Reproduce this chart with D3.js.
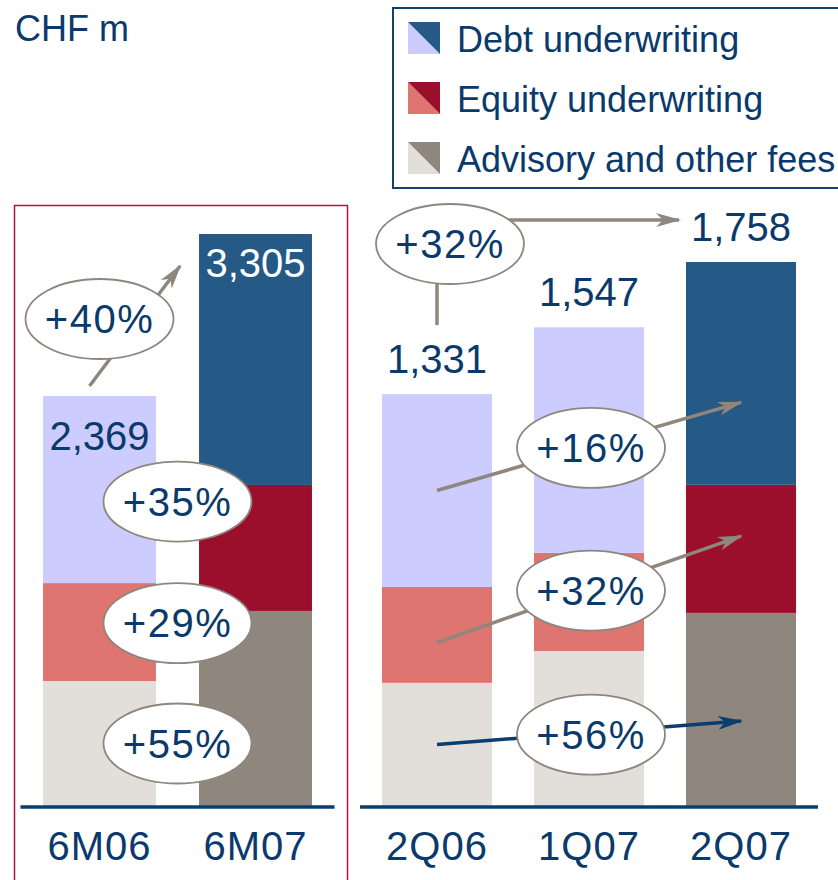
<!DOCTYPE html>
<html>
<head>
<meta charset="utf-8">
<script src="https://cdn.jsdelivr.net/npm/d3@7"></script>
<style>
  body { margin: 0; background: #fff; }
  svg { display: block; font-family: "Liberation Sans", Arial, sans-serif; }
</style>
</head>
<body>
<div class="container"></div>
<script>
// data (CHF m)
var halfCats = ["6M06", "6M07"];
var halfDebt = [1081, 1450];
var halfEquity = [566, 728];
var halfAdvisory = [722, 1127];
var halfTotals = [2369, 3305];
var halfGrowth = ["+35%", "+29%", "+55%"];   // debt, equity, advisory
var halfTotalGrowth = "+40%";

var qCats = ["2Q06", "1Q07", "2Q07"];
var qDebt = [623, 729, 720];
var qEquity = [310, 317, 414];
var qAdvisory = [398, 501, 624];
var qTotals = [1331, 1547, 1758];
var qGrowth = ["+16%", "+32%", "+56%"];
var qTotalGrowth = "+32%";

var seriesNames = ["Debt underwriting", "Equity underwriting", "Advisory and other fees"];
var lightColors = ["#ccccff", "#df7570", "#e2dfdb"];
var darkColors = ["#255a87", "#9b0e2c", "#8f867d"];

var textBlue = "#0a3a6b";
var arrowGrey = "#8f867d";

var svgWidth = 838, svgHeight = 880;
var baseY = 806;

var svg = d3.select(".container").append("svg")
    .attr("width", svgWidth)
    .attr("height", svgHeight);

var defs = svg.append("defs");
[["head-grey", arrowGrey], ["head-blue", "#0b3d6e"]].forEach(function (m) {
    defs.append("marker")
        .attr("id", m[0])
        .attr("markerUnits", "userSpaceOnUse")
        .attr("markerWidth", 26).attr("markerHeight", 14)
        .attr("refX", 23).attr("refY", 7)
        .attr("orient", "auto")
        .append("path")
        .attr("d", "M0,0 L25,7 L0,14 L7,7 Z")
        .attr("fill", m[1]);
});

// stacked rows, bottom-up: advisory, equity, debt
function stackRows(cats, debt, equity, advisory) {
    return cats.map(function (c, i) {
        return { cat: c, advisory: advisory[i], equity: equity[i], debt: debt[i] };
    });
}
var keys = ["debt", "equity", "advisory"];
var stack = d3.stack().keys(["advisory", "equity", "debt"]);

function drawPanel(cats, debt, equity, advisory, totals, x0, x1, topPx, darkIndex) {
    var rows = stackRows(cats, debt, equity, advisory);
    var xScale = d3.scaleBand().domain(cats).range([x0, x1])
        .paddingInner(0.276).paddingOuter(0.138);
    var yScale = d3.scaleLinear().domain([0, d3.max(totals)]).range([baseY, topPx]);
    var layers = stack(rows);
    var g = svg.append("g");
    layers.forEach(function (layer) {
        var si = keys.indexOf(layer.key);
        g.selectAll(null).data(layer).enter().append("rect")
            .attr("x", function (d) { return xScale(d.data.cat); })
            .attr("width", xScale.bandwidth())
            .attr("y", function (d) { return yScale(d[1]); })
            .attr("height", function (d) { return yScale(d[0]) - yScale(d[1]); })
            .attr("fill", function (d) { return d.data.cat === cats[darkIndex] ? darkColors[si] : lightColors[si]; });
    });
    // baseline
    g.append("line")
        .attr("x1", x0 - 1).attr("x2", x1 + 1)
        .attr("y1", baseY + 1).attr("y2", baseY + 1)
        .attr("stroke", "#0b3d6e").attr("stroke-width", 3.5);
    // category labels
    g.selectAll(null).data(cats).enter().append("text")
        .attr("x", function (d) { return xScale(d) + xScale.bandwidth() / 2; })
        .attr("y", 860)
        .attr("text-anchor", "middle")
        .attr("font-size", 40)
        .attr("letter-spacing", 1)
        .attr("fill", textBlue)
        .text(function (d) { return d; });
    return { x: xScale, y: yScale, layers: layers };
}

// y at a fraction of a segment's height (0 = bottom, 1 = top)
function segAt(p, key, i, f) {
    var layer = p.layers.filter(function (l) { return l.key === key; })[0];
    return p.y(layer[i][0] + (layer[i][1] - layer[i][0]) * f);
}
function bubble(cx, cy, label) {
    svg.append("ellipse")
        .attr("cx", cx).attr("cy", cy).attr("rx", 74).attr("ry", 40)
        .attr("fill", "#fff").attr("stroke", arrowGrey).attr("stroke-width", 1.8);
    svg.append("text")
        .attr("x", cx).attr("y", cy + 14)
        .attr("text-anchor", "middle")
        .attr("font-size", 40)
        .attr("letter-spacing", 1.5)
        .attr("fill", textBlue)
        .text(label);
}
function arrow(xa, ya, xb, yb, head, color) {
    svg.append("line")
        .attr("x1", xa).attr("y1", ya).attr("x2", xb).attr("y2", yb)
        .attr("stroke", color).attr("stroke-width", 3.5)
        .attr("marker-end", head ? "url(#" + head + ")" : null);
}

// left panel frame
svg.append("rect")
    .attr("x", 14.5).attr("y", 205.5).attr("width", 333).attr("height", 700)
    .attr("fill", "none").attr("stroke", "#b0173c").attr("stroke-width", 1.5);

var left = drawPanel(halfCats, halfDebt, halfEquity, halfAdvisory, halfTotals, 21.5, 333.5, 234, 1);
var right = drawPanel(qCats, qDebt, qEquity, qAdvisory, qTotals, 361, 817, 262, 2);

// left panel labels
var lbw = left.x.bandwidth();
var lc0 = left.x(halfCats[0]) + lbw / 2, lc1 = left.x(halfCats[1]) + lbw / 2;
svg.append("text")
    .attr("x", lc0).attr("y", left.y(halfTotals[0]) + 54)
    .attr("text-anchor", "middle").attr("font-size", 40)
    .attr("fill", textBlue).text(d3.format(",")(halfTotals[0]));
svg.append("text")
    .attr("x", lc1).attr("y", left.y(halfTotals[1]) + 43)
    .attr("text-anchor", "middle").attr("font-size", 40)
    .attr("fill", "#fff").text(d3.format(",")(halfTotals[1]));

// +40% arrow
arrow(lc0 - 10, left.y(halfTotals[0]) - 10, left.x(halfCats[1]) - 19, left.y(halfTotals[1]) + 32, "head-grey", arrowGrey);
bubble(lc0, left.y(halfTotals[0]) - 77, halfTotalGrowth);

// left segment bubbles
var lMidX = (left.x(halfCats[0]) + lbw + left.x(halfCats[1])) / 2;
var nudge = [12, -9, 0];
keys.forEach(function (k, i) {
    bubble(lMidX, segAt(left, k, 0, 0.5) + nudge[i], halfGrowth[i]);
});

// right panel totals
var rbw = right.x.bandwidth();
qCats.forEach(function (c, i) {
    svg.append("text")
        .attr("x", right.x(c) + rbw / 2).attr("y", right.y(qTotals[i]) - 21)
        .attr("text-anchor", "middle").attr("font-size", 40)
        .attr("fill", textBlue).text(d3.format(",")(qTotals[i]));
});

var rc0 = right.x(qCats[0]) + rbw / 2;
var rc1 = right.x(qCats[1]) + rbw / 2;
var rc2 = right.x(qCats[2]) + rbw / 2;

// +32% total yoy
var topY = right.y(qTotals[2]) - 42;
arrow(rc0, right.y(qTotals[0]) - 69, rc0, topY + 40, null, arrowGrey);
arrow(rc0 + 60, topY, rc2 - 62, topY, "head-grey", arrowGrey);
bubble(rc0 + 13, topY + 24, qTotalGrowth);

// segment yoy arrows
var startFrac = { debt: 0.5, equity: 0.42, advisory: 0.5 };
var endFrac = { debt: 0.37, equity: 0.6, advisory: 0.44 };
keys.forEach(function (k, i) {
    var ya = segAt(right, k, 0, startFrac[k]), yb = segAt(right, k, 2, endFrac[k]);
    var blue = k === "advisory";
    arrow(rc0, ya, rc2, yb, blue ? "head-blue" : "head-grey", blue ? "#0b3d6e" : arrowGrey);
    var t = (rc1 + 2 - rc0) / (rc2 - rc0);
    bubble(rc1 + 2, ya + (yb - ya) * t + 2, qGrowth[i]);
});

// unit
svg.append("text")
    .attr("x", 15).attr("y", 41)
    .attr("font-size", 36)
    .attr("fill", textBlue)
    .text("CHF m");

// legend
var legend = svg.append("g");
legend.append("rect")
    .attr("x", 393).attr("y", 8).attr("width", 460).attr("height", 180)
    .attr("fill", "#fff").attr("stroke", "#1a3f6b").attr("stroke-width", 2);
seriesNames.forEach(function (name, i) {
    var row = legend.append("g").attr("transform", "translate(408," + (22 + i * 60) + ")");
    row.append("path").attr("d", "M0,0 L32,32 L0,32 Z").attr("fill", lightColors[i]);
    row.append("path").attr("d", "M0,0 L32,0 L32,32 Z").attr("fill", darkColors[i]);
    row.append("text")
        .attr("x", 49).attr("y", 30)
        .attr("font-size", 36)
        .attr("fill", textBlue)
        .text(name);
});
</script>
</body>
</html>
